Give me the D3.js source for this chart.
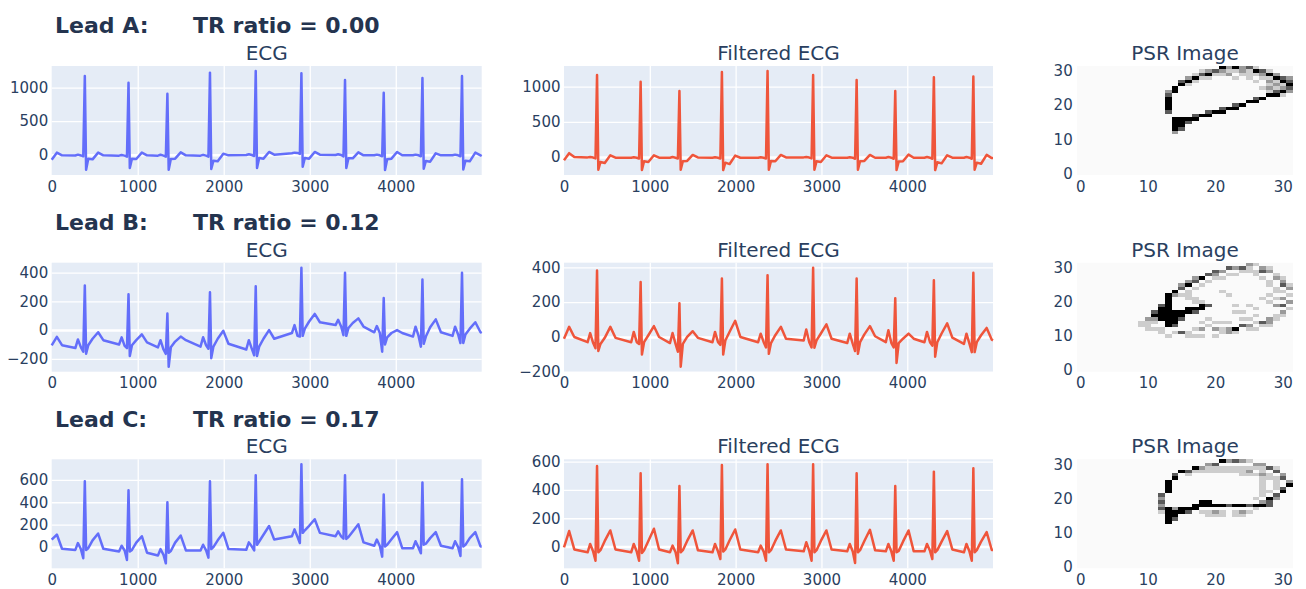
<!DOCTYPE html>
<html><head><meta charset="utf-8">
<script src="https://cdn.jsdelivr.net/npm/d3@7"></script>
<style>body{margin:0;background:#fff;overflow:hidden;}</style>
</head><body><svg id="c" width="1306" height="589"></svg>
<script>
// ---------- DATA ----------
const sampleIdx = [0,60,120,
275,305,340,367,385,400,425,475,540,600,
783,813,848,875,893,908,933,983,1048,1108,
1235,1265,1300,1327,1345,1360,1385,1435,1500,1560,
1730,1760,1795,1822,1840,1855,1880,1930,1995,2055,
2262,2292,2327,2354,2372,2387,2412,2462,2527,2587,
2793,2823,2858,2885,2903,2918,2943,2993,3058,3118,
3300,3330,3365,3392,3410,3425,3450,3500,3565,3625,
3750,3780,3815,3842,3860,3875,3900,3950,4015,4075,
4200,4230,4265,4292,4310,4325,4350,4400,4465,4525,
4660,4690,4725,4752,4770,4785,4810,4860,4925,4985,
4999];

const ecgA = [-75,30,-10,
-12,0,-12,-25,1175,-225,-60,-70,30,-10,
-15,-5,-15,-30,1075,-200,-60,-65,30,-10,
-15,-2,-15,-30,910,-225,-65,-60,35,-10,
-15,-3,-15,-30,1225,-215,-90,-100,15,-10,
-5,5,-5,-20,1250,-200,-50,-60,40,0,
20,30,25,10,1215,-180,-50,-60,40,0,
-5,5,-5,-25,1115,-200,-55,-55,35,-10,
-10,0,-10,-25,925,-230,-70,-60,40,-10,
-10,0,-10,-25,1145,-210,-95,-105,20,-10,
-10,0,-10,-25,1175,-220,-90,-100,30,-10,
-20];

const filtA = [-45,55,0,
-5,0,-8,-20,1166,-180,-70,-85,25,-10,
-10,-3,-10,-20,1071,-185,-60,-70,25,-10,
-10,0,-10,-20,938,-180,-60,-55,30,-5,
-10,-2,-10,-20,1209,-185,-80,-100,20,-10,
-10,-2,-10,-20,1223,-180,-55,-60,30,-5,
-5,0,-8,-20,1166,-180,-60,-70,25,-10,
-10,-3,-10,-25,1095,-180,-60,-55,30,-10,
-10,0,-10,-25,938,-185,-65,-60,35,-10,
-10,0,-10,-25,1133,-185,-75,-90,25,-10,
-10,0,-10,-25,1143,-180,-80,-95,30,-15,
-15];

const ecgB = [-106,-47,-105,
-125,-65,-120,-150,311,-165,-105,-60,-15,-70,
-100,-50,-110,-125,250,-180,-105,-70,-30,-85,
-120,-70,-135,-165,115,-255,-120,-80,-45,-70,
-115,-50,-105,-130,263,-195,-115,-60,-5,-95,
-135,-70,-130,-175,306,-180,-115,-60,0,-60,
-20,35,-40,-45,435,-40,10,60,113,55,
35,72,25,-35,400,-40,15,50,82,25,
-15,28,-20,-150,224,-100,-50,-20,0,-20,
-45,24,-40,-115,353,-95,-45,20,75,-15,
-40,24,-30,-90,400,-90,-30,10,55,-15,
-20];

const filtB = [-10,58,0,
-30,22,-35,-65,382,-80,-40,-5,58,-5,
-30,29,-30,-40,316,-101,-30,10,62,0,
-35,23,-40,-85,194,-171,-40,0,33,-5,
-30,29,-30,-45,336,-101,-20,30,93,0,
-30,19,-30,-60,355,-97,-35,10,58,-10,
-20,43,-30,-60,398,-62,-20,20,72,-10,
-35,19,-40,-81,336,-97,-30,15,62,4,
-30,39,-35,-60,223,-149,-35,-10,19,-10,
-30,29,-30,-50,326,-113,-30,20,78,-4,
-40,19,-40,-87,369,-87,-30,10,52,-16,
-20];

const ecgC = [67,112,-15,
-25,36,-20,-100,588,-25,-10,60,121,-15,
-40,12,-30,-115,506,-40,-25,40,97,-50,
-75,-18,-70,-145,400,-50,-35,40,103,-30,
-30,21,-30,-94,588,-18,0,60,127,-18,
-24,42,5,-30,642,21,50,110,188,67,
97,158,90,36,739,127,150,190,248,127,
97,140,95,75,642,73,90,140,203,42,
12,67,10,-85,470,6,20,70,133,-10,
-10,52,-5,-55,576,21,30,80,133,12,
-10,52,0,-79,606,6,20,80,133,6,
6];

const filtC = [-5,110,-20,
-40,19,-35,-100,569,-40,-25,40,114,-20,
-40,19,-35,-100,517,-45,-25,40,126,-20,
-40,7,-40,-118,427,-40,-25,40,114,-25,
-40,19,-35,-88,576,-35,-20,45,121,-20,
-40,7,-35,-100,581,-40,-25,40,114,-20,
-33,31,-30,-100,581,-40,-25,40,114,-20,
-33,19,-35,-115,517,-40,-25,40,119,-25,
-33,19,-35,-100,427,-40,-30,35,114,-33,
-33,19,-30,-88,529,-40,-25,35,109,-20,
-40,19,-35,-100,552,-40,-25,35,102,-24,
-24];

// PSR images: [column, row, level(1..4)], empty cells are level 0
const psrA = [[13,18,3],[13,19,4],[13,20,4],[13,21,4],[13,22,4],[13,23,3],[13,24,2],[14,24,4],[14,25,4],[15,26,4],[15,27,3],[16,27,4],[16,28,2],[17,28,4],[18,29,3],[19,29,4],[19,30,2],[20,30,3],[21,30,2],[21,31,4],[22,31,2],[23,31,4],[24,31,2],[25,31,3],[26,31,1],[26,30,4],[27,30,3],[28,30,1],[28,29,4],[29,29,2],[29,28,4],[30,28,3],[30,27,4],[31,27,3],[31,26,4],[31,25,3],[30,25,2],[30,24,4],[29,24,3],[29,23,4],[28,23,4],[27,22,4],[26,22,3],[26,21,4],[25,21,4],[24,20,4],[23,20,3],[23,19,4],[22,19,4],[21,19,3],[21,18,4],[20,18,4],[19,18,3],[19,17,4],[18,17,4],[17,17,3],[17,16,4],[16,16,4],[15,16,4],[14,16,4],[14,15,4],[15,15,4],[16,15,3],[14,14,4],[15,14,4],[14,13,4],[15,13,3],[14,12,2],
[17,29,1],[18,30,1],[20,29,1],[21,29,1],[22,30,1],[22,29,2],[23,30,1],[24,30,2],[25,30,1],[24,29,1],[25,29,1],[26,29,1],[27,29,2],[27,28,1],[28,28,1],[28,27,2],[29,27,1],[29,26,2],[30,26,1],[28,26,1],[29,25,1],[28,25,2],[27,25,1],[28,24,1],[31,28,2],[31,24,2],[30,23,1],[16,26,1],[17,27,1],[18,28,1],[19,28,1],[23,28,1],[25,28,1],[26,27,1]];

const psrB = [[13,22,4],[13,21,4],[13,20,4],[13,19,4],[12,19,3],[12,18,4],[13,18,4],[11,17,3],[12,17,4],[13,17,4],[14,17,4],[11,16,4],[12,16,4],[13,16,4],[14,16,4],[15,16,4],[12,15,4],[13,15,4],[14,15,4],[15,15,3],[13,14,4],[14,14,4],[13,13,4],[14,13,3],[15,17,4],[16,17,4],[16,18,4],[17,18,4],[18,18,4],[18,19,4],[19,19,3],[17,17,3],
[14,23,4],[14,22,2],[15,24,3],[15,25,2],[16,25,4],[16,26,2],[17,26,3],[17,27,2],[18,27,4],[19,28,3],[20,28,2],[20,29,3],[21,29,2],[22,30,3],[23,30,2],[24,30,3],[25,30,1],[25,31,2],[26,31,1],[27,30,2],[28,30,1],[27,29,3],[28,29,2],[29,28,1],[29,27,2],[30,27,1],[30,26,2],[31,25,1],[30,25,3],[31,24,2],[30,23,1],[31,22,1],[30,21,2],[29,21,1],[31,20,2],[30,19,3],[29,19,2],[31,18,1],[30,17,2],[29,16,1],[30,16,1],[28,15,2],[27,14,3],[26,14,1],[25,13,2],[24,13,3],[23,12,4],[22,12,2],[21,12,1],[20,12,2],[19,13,1],[18,12,2],[17,12,1],[16,11,1],[15,11,3],[14,11,1],[12,11,1],[13,10,1],[16,10,1],[17,10,1],[18,10,1],[20,10,1],[21,11,1],[22,11,2],[23,11,1],[25,12,1],[26,12,1],[27,13,1],[28,13,1],[28,14,2],[29,15,1],
[9,13,1],[9,14,1],[10,14,1],[10,15,2],[10,13,1],[11,14,1],[11,15,2],[10,12,1],[11,12,1],[12,12,1],
[15,22,1],[16,22,1],[16,21,1],[17,21,1],[17,20,1],[18,20,1],[16,23,1],[17,24,1],[18,25,1],[19,26,1],[20,27,1],[21,27,1],[22,28,1],[23,28,1],[24,29,1],[25,29,1],[26,29,1],[26,28,1],[27,27,1],[28,26,1],[28,25,1],[29,24,1],[29,23,1],[28,22,1],[27,21,1],[28,20,1],[21,23,1],[22,22,1],[23,19,1],[23,17,1],[24,17,1],[25,19,1],[26,18,1],[20,14,1],[21,14,1],[22,14,1],[19,15,1],[18,14,1],[24,15,1],[25,15,1],[26,16,1]];

const psrC = [[21,31,4],[23,31,3],[22,31,2],[24,31,2],[25,31,1],[26,30,2],[20,30,3],[19,30,2],[18,29,2],[17,29,4],[16,28,3],[15,28,4],[14,27,3],[14,26,4],[13,25,4],[13,24,4],[13,23,4],[13,22,4],[12,21,3],[12,20,2],[12,19,3],[12,18,2],[12,17,3],[12,16,1],
[27,30,2],[28,29,3],[29,29,1],[29,28,3],[30,27,2],[30,26,3],[31,25,2],[31,24,4],[30,23,3],[30,22,4],[29,21,3],[28,20,4],[28,19,3],[27,19,2],[29,20,2],
[13,17,4],[13,16,4],[14,16,4],[13,15,4],[14,15,4],[13,14,4],[14,14,3],[13,13,4],[15,16,4],[15,17,4],[16,17,4],[17,17,4],[17,18,4],[18,18,4],[18,19,4],[19,19,4],[19,18,4],[20,18,4],[21,18,4],[22,18,3],[23,18,4],[24,18,4],[25,18,3],[26,18,4],[27,18,4],[28,18,3],[16,16,3],[14,17,2],
[18,16,1],[19,16,1],[20,16,2],[19,15,1],[20,15,1],[21,16,1],[23,16,1],[24,16,2],[25,16,1],[23,15,1],[24,15,1],[26,17,1],[21,15,1],
[16,27,1],[17,28,1],[18,28,1],[19,28,1],[20,28,1],[21,28,1],[22,28,1],[23,28,1],[24,27,1],[25,27,1],[26,27,1],[24,28,1],[25,28,2],[27,28,1],[27,27,2],[28,27,1],[28,26,1],[27,26,1],[27,25,1],[27,24,1],[27,23,1],[27,22,1],[27,21,1],[26,20,1],[22,29,1],[23,29,1],[24,29,1],[25,29,1],[26,29,1],[27,29,1],[21,29,1],[20,29,1],[19,29,1],[29,26,1],[29,25,1],[29,24,1],[29,23,1],[28,22,1]];

const leadNames = ["Lead A:", "Lead B:", "Lead C:"];
const trRatios = ["TR ratio = 0.00", "TR ratio = 0.12", "TR ratio = 0.17"];
const panelTitles = ["ECG", "Filtered ECG", "PSR Image"];
const xTicks = [0, 1000, 2000, 3000, 4000];
const ecgYTicks = [[0, 500, 1000], [-200, 0, 200, 400], [0, 200, 400, 600]];
const filtYTicks = [[0, 500, 1000], [-200, 0, 200, 400], [0, 200, 400, 600]];
const psrTicks = [0, 10, 20, 30];
const psrLevels = [0, 1, 2, 3, 4];
const psrColors = ["#fafafa", "#cdcdcd", "#9a9a9a", "#5a5a5a", "#000000"];

// ---------- DRAW ----------
const FONT = '"DejaVu Sans", Verdana, sans-serif';
const TXT = "#2a3f5f";
const svg = d3.select("#c");
const rowTops = [66, 262.7, 459.3];
const plotH = 109;
const cols = [{x: 51.7, w: 430}, {x: 564, w: 429}, {x: 1077, w: 216}];
const ecgSeries = [ecgA, ecgB, ecgC];
const filtSeries = [filtA, filtB, filtC];
const psrSeries = [psrA, psrB, psrC];
const fmt = d3.format("d");
const XPAD = 6;

function styleTicks(sel) {
  sel.select(".domain").remove();
  sel.selectAll("text").attr("font-family", FONT).attr("font-size", 15).attr("fill", TXT);
}

function linePanel(top, col, vals, yTicks, color, title) {
  const g = svg.append("g");
  const x0 = col.x, w = col.w;
  const xs = d3.scaleLinear().domain([0, 4999]).range([x0, x0 + w]);
  const [mn, mx] = d3.extent(vals);
  const pad = (mx - mn) * 0.05;
  const ys = d3.scaleLinear().domain([mn - pad, mx + pad]).range([top + plotH, top]);
  g.append("rect").attr("x", x0).attr("y", top).attr("width", w).attr("height", plotH).attr("fill", "#E5ECF6");
  g.append("g").attr("transform", `translate(0,${top + plotH})`)
    .call(d3.axisBottom(xs).tickValues(xTicks.filter(v => v !== 0)).tickSize(-plotH).tickFormat(""))
    .call(s => { s.select(".domain").remove(); s.selectAll("line").attr("stroke", "#fff").attr("stroke-width", 1.3); });
  g.append("g").attr("transform", `translate(${x0},0)`)
    .call(d3.axisLeft(ys).tickValues(yTicks).tickSize(-w).tickFormat(""))
    .call(s => { s.select(".domain").remove();
      s.selectAll(".tick line").attr("stroke", "#fff").attr("stroke-width", d => d === 0 ? 2.5 : 1.3); });
  const line = d3.line().x((d, i) => xs(sampleIdx[i])).y(d => ys(d));
  g.append("path").datum(vals).attr("d", line).attr("fill", "none").attr("stroke", color)
    .attr("stroke-width", 2.5).attr("stroke-linejoin", "round");
  g.append("g").attr("transform", `translate(0,${top + plotH})`)
    .call(d3.axisBottom(xs).tickValues(xTicks).tickSize(0).tickPadding(XPAD).tickFormat(fmt)).call(styleTicks);
  g.append("g").attr("transform", `translate(${x0},0)`)
    .call(d3.axisLeft(ys).tickValues(yTicks).tickSize(0).tickPadding(3.5).tickFormat(fmt)).call(styleTicks);
  g.append("text").attr("x", x0 + w / 2).attr("y", top - 6).attr("text-anchor", "middle")
    .attr("font-family", FONT).attr("font-size", 20).attr("fill", TXT).text(title);
}

function psrPanel(top, col, cells, title) {
  const g = svg.append("g");
  const x0 = col.x, w = col.w;
  const xs = d3.scaleLinear().domain([-0.5, 31.5]).range([x0, x0 + w]);
  const ys = d3.scaleLinear().domain([-0.5, 31.5]).range([top + plotH, top]);
  const color = d3.scaleLinear().domain(psrLevels).range(psrColors);
  g.append("rect").attr("x", x0).attr("y", top).attr("width", w).attr("height", plotH).attr("fill", color(0));
  g.append("g").attr("shape-rendering", "crispEdges").selectAll("rect").data(cells).join("rect")
    .attr("x", d => xs(d[0] - 0.5)).attr("y", d => ys(d[1] + 0.5))
    .attr("width", d => xs(d[0] + 0.5) - xs(d[0] - 0.5))
    .attr("height", d => ys(d[1] - 0.5) - ys(d[1] + 0.5))
    .attr("fill", d => color(d[2]));
  g.append("g").attr("transform", `translate(0,${top + plotH})`)
    .call(d3.axisBottom(xs).tickValues(psrTicks).tickSize(0).tickPadding(XPAD).tickFormat(fmt)).call(styleTicks);
  g.append("g").attr("transform", `translate(${x0},0)`)
    .call(d3.axisLeft(ys).tickValues(psrTicks).tickSize(0).tickPadding(4.3).tickFormat(fmt)).call(styleTicks);
  g.append("text").attr("x", x0 + w / 2).attr("y", top - 6).attr("text-anchor", "middle")
    .attr("font-family", FONT).attr("font-size", 20).attr("fill", TXT).text(title);
}

rowTops.forEach((top, r) => {
  linePanel(top, cols[0], ecgSeries[r], ecgYTicks[r], "#636efa", panelTitles[0]);
  linePanel(top, cols[1], filtSeries[r], filtYTicks[r], "#EF553B", panelTitles[1]);
  psrPanel(top, cols[2], psrSeries[r], panelTitles[2]);
  svg.append("text").attr("x", 55).attr("y", top - 32.7).attr("font-family", FONT)
    .attr("font-weight", "bold").attr("font-size", 22).attr("fill", "#24344f").text(leadNames[r]);
  svg.append("text").attr("x", 193).attr("y", top - 32.7).attr("font-family", FONT)
    .attr("font-weight", "bold").attr("font-size", 22).attr("fill", "#24344f").text(trRatios[r]);
});
</script></body></html>
